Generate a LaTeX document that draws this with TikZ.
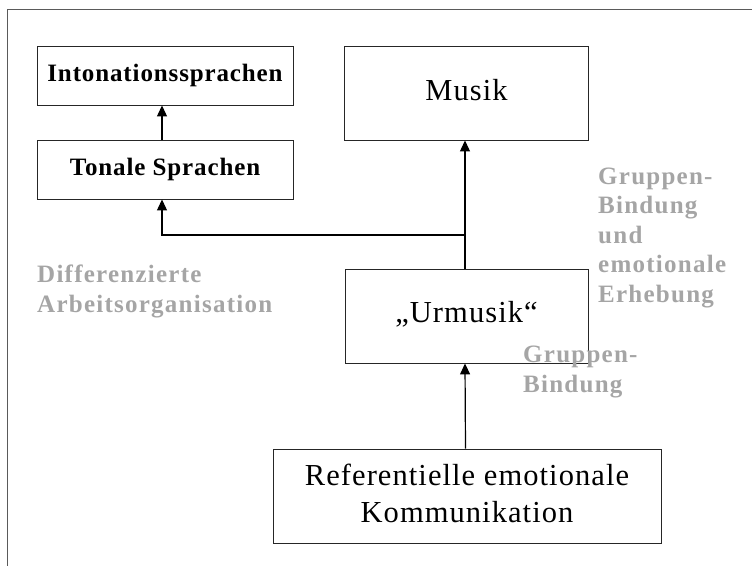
\documentclass[tikz,border=0pt]{standalone}
\usepackage{fontspec}
\setmainfont{Liberation Serif}
\newfontfamily\wideserif[LetterSpace=3.5]{Liberation Serif}
\newfontfamily\widerserif[LetterSpace=5]{Liberation Serif}
\usetikzlibrary{arrows.meta}
\definecolor{lbl}{RGB}{165,165,165}
\definecolor{frm}{RGB}{90,90,90}
\tikzset{
  box/.style={draw=black!85, line width=0.9pt, rectangle, inner sep=0pt, align=center},
  boldbox/.style={box, font=\wideserif\fontsize{25}{29}\selectfont\bfseries},
  bigbox/.style={box, font=\wideserif\fontsize{30.5}{37}\selectfont},
  arr/.style={line width=1.2pt, -{Triangle[length=11pt,width=10pt]}},
  glabel/.style={text=lbl, font=\widerserif\fontsize{25}{29.5}\selectfont\bfseries, align=left, anchor=base west, inner sep=0pt},
}
\begin{document}
\begin{tikzpicture}[x=1pt,y=-1pt]
\useasboundingbox (0,0) rectangle (752,566);
\draw[frm, line width=1pt] (752,9) -- (7,9) -- (7,566);
\node[boldbox, minimum width=256pt, minimum height=59pt] (inton) at (165,75.5) {Intonationssprachen};
\node[boldbox, minimum width=256pt, minimum height=59pt] (ton) at (165,169.5) {Tonale Sprachen};
\node[bigbox, minimum width=244pt, minimum height=94pt, text height=20pt, text depth=6pt] (mus) at (466.5,93) {Musik};
\node[bigbox, minimum width=243pt, minimum height=94pt, text height=20pt, text depth=8pt] (urm) at (466.5,316) {„Urmusik“};
\node[bigbox, minimum width=388pt, minimum height=94pt, text depth=6pt] (ref) at (467,496) {Referentielle emotionale\\Kommunikation};
\coordinate (j) at (465,235);
\draw[arr] ([xshift=-3pt]ton.north) -- ([xshift=-3pt]inton.south);
\draw[arr] ([xshift=-1.5pt]urm.north) -- ([xshift=-1.5pt]mus.south);
\draw[arr] (j) -| ([xshift=-3pt]ton.south);
\draw[arr] ([xshift=-1.5pt]ref.north) -- ([xshift=-1.5pt]urm.south);
\node[glabel] (l1) at (37,312) {Differenzierte\\Arbeitsorganisation};
\node[glabel] (l2) at (598,302) {Gruppen-\\Bindung\\und\\emotionale\\Erhebung};
\node[glabel] (l3) at (523,392) {Gruppen-\\Bindung};
\end{tikzpicture}
\end{document}
